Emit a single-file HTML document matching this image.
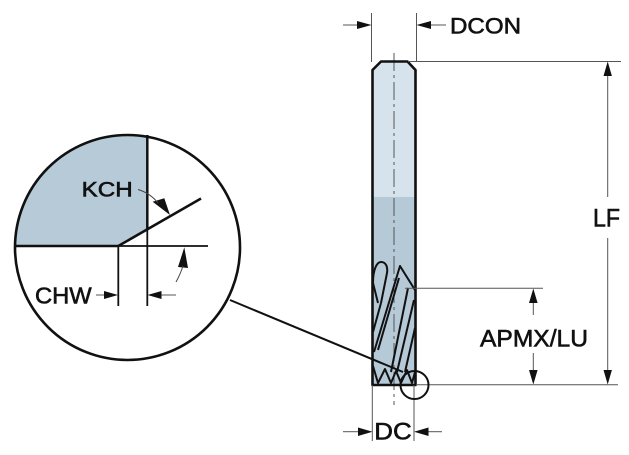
<!DOCTYPE html>
<html><head><meta charset="utf-8"><style>
html,body{margin:0;padding:0;background:#fff;}
svg{display:block;}
text{font-family:"Liberation Sans",Arial,sans-serif;fill:#111;stroke:#111;stroke-width:0.6px;}
</style></head><body>
<svg width="629" height="455" viewBox="0 0 629 455" xmlns="http://www.w3.org/2000/svg">
<defs>
<clipPath id="cc"><circle cx="127.5" cy="247.5" r="112.5"/></clipPath>
</defs>
<rect width="629" height="455" fill="#fff"/>

<!-- Drill body fills -->
<path d="M372.5,197 L372.5,70 L381,61.5 L407.5,61.5 L415.5,70 L415.5,197 Z" fill="#d6e2ec"/>
<rect x="372.5" y="197" width="43" height="188" fill="#b6c9d7"/>

<!-- centre line -->
<line x1="394" y1="53" x2="394" y2="405" stroke="#555" stroke-width="1" stroke-dasharray="18 4 3 4"/>

<!-- flutes -->
<g fill="none" stroke="#111" stroke-width="2" stroke-linejoin="round">
<path d="M373,283 C373,269 377,262 381,262 C386,262 388,267 387,273 L381,303 M373,283 L378,303"/>
<path d="M374,352 L400,266 L415,290"/>
<path d="M378,350 L399,278"/>
<path d="M381,303 L373,332"/>
<path d="M408,288 L391,372"/>
<path d="M414,300 L397,372"/>
<path d="M415,328 L405,372"/>
<path d="M373,366 L378,383 L385,369 L391,383 L396,371 L401,383 L407,370 L412,383 L415,372"/>
</g>

<!-- drill outline -->
<path d="M372.5,385 L372.5,70 L381,61.5 L407.5,61.5 L415.5,70 L415.5,385 Z" fill="none" stroke="#111" stroke-width="2.6" stroke-linejoin="round"/>

<!-- extension lines -->
<g stroke="#555" stroke-width="1" fill="none">
<line x1="371.5" y1="13" x2="371.5" y2="62"/>
<line x1="416.5" y1="13" x2="416.5" y2="62"/>
<line x1="372.3" y1="385" x2="372.3" y2="441"/>
<line x1="414" y1="385" x2="414" y2="441"/>
<line x1="408" y1="61.5" x2="621" y2="61.5"/>
<line x1="405" y1="288.3" x2="543" y2="288.3"/>
<line x1="416" y1="384.8" x2="618" y2="384.8"/>
<!-- dimension lines -->
<line x1="343" y1="25" x2="358" y2="25"/>
<line x1="430" y1="25" x2="446" y2="25"/>
<line x1="607.7" y1="75" x2="607.7" y2="197"/>
<line x1="607.7" y1="238" x2="607.7" y2="371"/>
<line x1="533.3" y1="302" x2="533.3" y2="315"/>
<line x1="533.3" y1="353" x2="533.3" y2="371"/>
<line x1="343" y1="431.7" x2="359" y2="431.7"/>
<line x1="428" y1="431.7" x2="442" y2="431.7"/>
<line x1="96" y1="295" x2="105" y2="295"/>
<line x1="161" y1="295" x2="176" y2="295"/>
</g>

<!-- arrowheads -->
<g fill="#111">
<polygon points="371.5,25 357,21 357,29"/>
<polygon points="416.5,25 431,21 431,29"/>
<polygon points="607.7,61.5 603.5,76 611.9,76"/>
<polygon points="607.7,384.5 603.5,370 611.9,370"/>
<polygon points="533.3,288.5 529,303 537.6,303"/>
<polygon points="533.3,384.5 529,370 537.6,370"/>
<polygon points="372.5,431.7 358,427.5 358,436"/>
<polygon points="414,431.7 428.5,427.5 428.5,436"/>
<polygon points="118,295 104,291 104,299"/>
<polygon points="147.5,295 161.5,291 161.5,299"/>
<polygon points="170,215 152.7,201.7 164.3,198.3"/>
<polygon points="184.3,247.3 178,267 188,268"/>
</g>

<!-- detail circle -->
<g clip-path="url(#cc)">
<path d="M0,0 L147.3,0 L147.3,229.4 L118.3,246 L0,246 Z" fill="#b7cad8"/>
</g>
<g stroke="#111" fill="none" stroke-linecap="butt">
<line x1="147.3" y1="135" x2="147.3" y2="230" stroke-width="2.5"/>
<line x1="147.3" y1="230" x2="147.3" y2="306" stroke-width="1.8"/>
<line x1="14" y1="246" x2="118.3" y2="246" stroke-width="2.5"/>
<line x1="118.3" y1="246" x2="208" y2="246" stroke-width="1.8"/>
<line x1="118.3" y1="246" x2="201" y2="198.5" stroke-width="2.5"/>
<line x1="118.3" y1="246" x2="118.3" y2="306" stroke-width="1.8"/>
<path d="M138,189.5 Q150,193 158,203" stroke="#444" stroke-width="1"/>
<path d="M176,282 Q180,275 183,266" stroke="#444" stroke-width="1"/>
</g>
<circle cx="127.5" cy="247.5" r="112.5" fill="none" stroke="#111" stroke-width="2.6"/>

<!-- leader + small circle -->
<line x1="230" y1="300" x2="403" y2="372" stroke="#111" stroke-width="2"/>
<circle cx="414.5" cy="385" r="14" fill="none" stroke="#111" stroke-width="2"/>

<!-- labels -->
<text x="450" y="33.7" font-size="22" textLength="71" lengthAdjust="spacingAndGlyphs">DCON</text>
<text x="593" y="226.7" font-size="25" textLength="27" lengthAdjust="spacingAndGlyphs">LF</text>
<text x="480" y="346.7" font-size="24" textLength="108" lengthAdjust="spacingAndGlyphs">APMX/LU</text>
<text x="374.3" y="439.3" font-size="24" textLength="37.4" lengthAdjust="spacingAndGlyphs">DC</text>
<text x="81.7" y="196.7" font-size="21" textLength="51" lengthAdjust="spacingAndGlyphs">KCH</text>
<text x="35" y="303.3" font-size="23" textLength="56.7" lengthAdjust="spacingAndGlyphs">CHW</text>
</svg>
</body></html>
